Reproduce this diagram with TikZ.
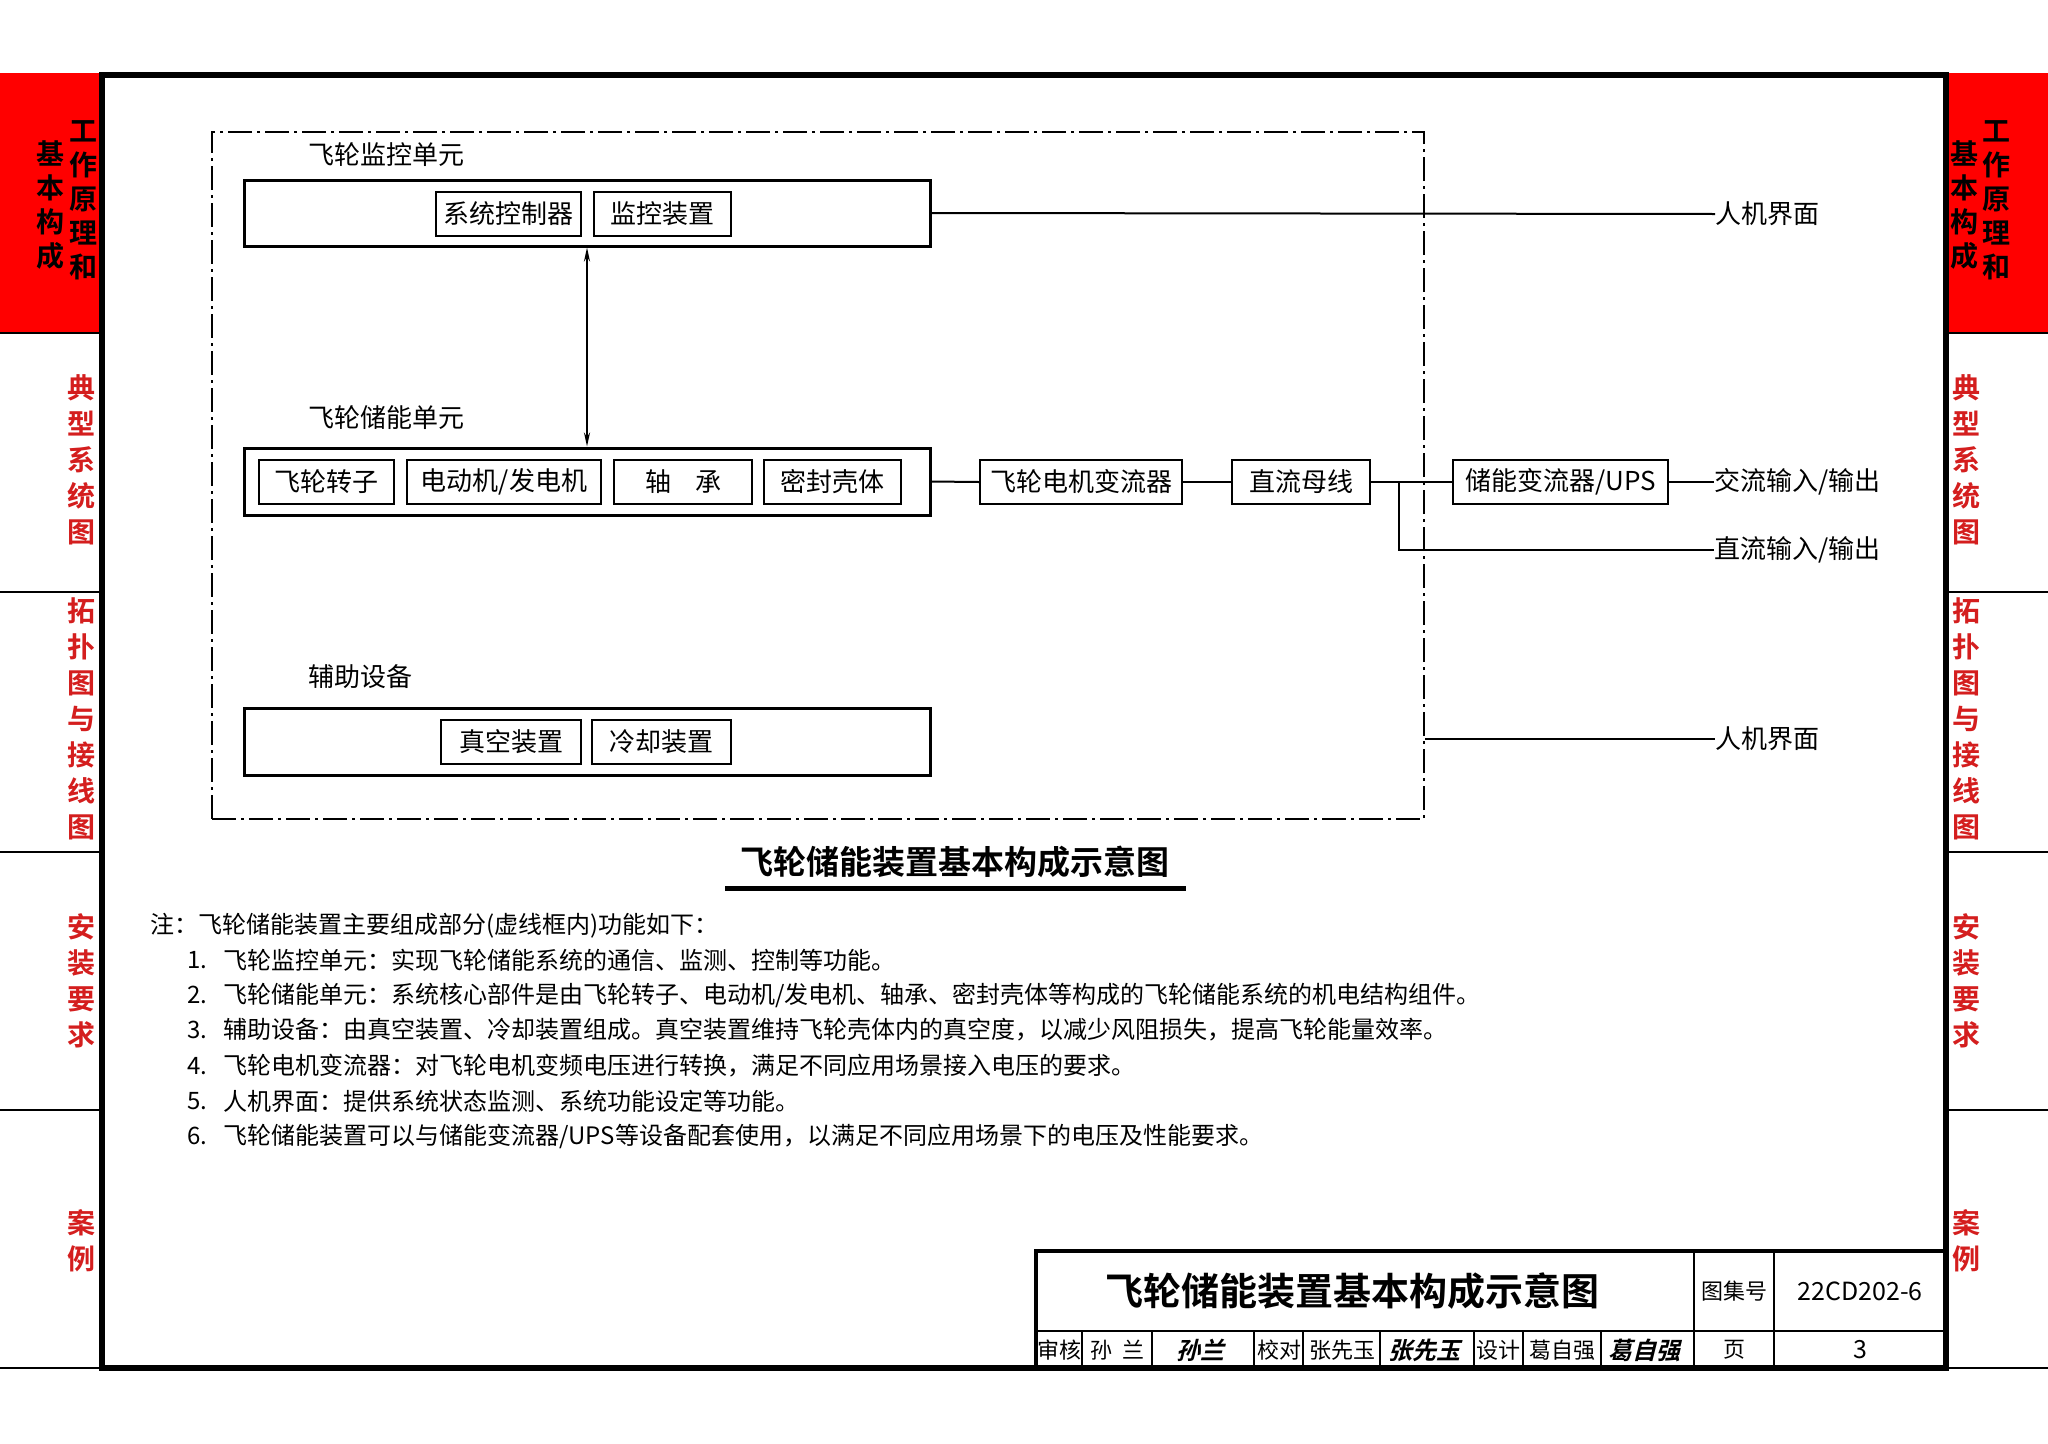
\documentclass[tikz,border=0pt]{standalone}
\usepackage{fontspec}
\setmainfont{Noto Sans CJK SC}[BoldFont={Noto Sans CJK SC Bold}]
\usepackage{tikz}
\usetikzlibrary{calc,arrows.meta}
\definecolor{ink}{HTML}{000000}
\definecolor{tabred}{HTML}{FF0000}
\definecolor{tabtext}{HTML}{D41E1E}
\tikzset{
  frame/.style={draw=ink, line width=6pt},
  thin/.style={draw=ink, line width=1.5pt},
  unit/.style={draw=ink, line width=3pt, minimum width=686pt, inner sep=0pt},
  part/.style={draw=ink, line width=2.5pt, minimum height=44pt, inner sep=0pt, font=\fontsize{26}{30}\selectfont},
  wire/.style={draw=ink, line width=2pt},
  dblarrow/.style={wire, arrows={Stealth[length=14pt,width=6pt]-Stealth[length=14pt,width=6pt]}},
  grpbox/.style={draw=ink, line width=2pt, dash pattern=on 24pt off 5pt on 3pt off 5pt, inner sep=0pt},
  lab/.style={font=\fontsize{26}{30}\selectfont, inner sep=0pt, anchor=west},
  note/.style={font=\fontsize{24}{28}\selectfont, inner sep=0pt, anchor=west},
  tabk/.style={font=\bfseries\fontsize{28}{34}\selectfont, align=center, inner sep=0pt, text=ink},
  tabr/.style={font=\bfseries\fontsize{28}{36}\selectfont, align=center, inner sep=0pt, text=tabtext},
  cell/.style={font=\fontsize{22}{26}\selectfont, inner sep=0pt},
  sign/.style={font=\bfseries\fontsize{24}{26}\selectfont, inner sep=0pt, xslant=0.25}
}

\begin{document}
\begin{tikzpicture}[x=1pt, y=-1pt]
  \fill[white] (0,0) rectangle (2048,1443);
  \useasboundingbox (0,0) rectangle (2048,1443);

  % side tabs
  \fill[tabred] (0,73) rectangle (102,333);
  \fill[tabred] (1946,73) rectangle (2048,333);
  \draw[thin] (0,333) -- (102,333) (0,592) -- (102,592) (0,852) -- (102,852)
              (0,1110) -- (102,1110) (0,1368) -- (102,1368);
  \draw[thin] (1946,333) -- (2048,333) (1946,592) -- (2048,592) (1946,852) -- (2048,852)
              (1946,1110) -- (2048,1110) (1946,1368) -- (2048,1368);
  \node[tabk] (la) at (83,200) {工\\作\\原\\理\\和};
  \node[tabk] (lb) at (50,205) {基\\本\\构\\成};
  \node[tabr] (lc) at (81,460) {典\\型\\系\\统\\图};
  \node[tabr] (ld) at (81,719) {拓\\扑\\图\\与\\接\\线\\图};
  \node[tabr] (le) at (81,981) {安\\装\\要\\求};
  \node[tabr] (lf) at (81,1241) {案\\例};
  \node[tabk] (ra) at (1996,200) {工\\作\\原\\理\\和};
  \node[tabk] (rb) at (1964,205) {基\\本\\构\\成};
  \node[tabr] (rc) at (1966,460) {典\\型\\系\\统\\图};
  \node[tabr] (rd) at (1966,719) {拓\\扑\\图\\与\\接\\线\\图};
  \node[tabr] (re) at (1966,981) {安\\装\\要\\求};
  \node[tabr] (rf) at (1966,1241) {案\\例};

  % dashed group
  \node[grpbox, minimum width=1212pt, minimum height=687pt] (grp) at (818,475.5) {};

  % monitoring unit
  \node[lab] (mculab) at (308,155) {飞轮监控单元};
  \node[unit, minimum height=66pt] (mcu) at (587,213) {};
  \node[part, minimum width=145pt] (ctrl) at (508.5,214) {系统控制器};
  \node[part, minimum width=137pt] (mon) at (662.5,214) {监控装置};

  % storage unit
  \node[lab] (esslab) at (308,418) {飞轮储能单元};
  \node[unit, minimum height=67pt] (ess) at (587,481.5) {};
  \node[part, minimum width=135pt] (rotor) at (326.5,482) {飞轮转子};
  \node[part, minimum width=194pt] (motor) at (504,482) {电动机/发电机};
  \node[part, minimum width=138pt] (bearing) at (683,482) {轴\hspace{24pt}承};
  \node[part, minimum width=137pt] (shell) at (832.5,482) {密封壳体};

  % auxiliary
  \node[lab] (auxlab) at (308,677) {辅助设备};
  \node[unit, minimum height=67pt] (aux) at (587,741.5) {};
  \node[part, minimum width=140pt] (vac) at (511,742) {真空装置};
  \node[part, minimum width=139pt] (cool) at (661.5,742) {冷却装置};

  % converter chain
  \node[part, minimum width=202pt] (conv) at (1081,482) {飞轮电机变流器};
  \node[part, minimum width=138pt] (bus) at (1301,482) {直流母线};
  \node[part, minimum width=215pt] (pcs) at (1560.5,482) {储能变流器/UPS};
  \coordinate (jn) at (1399,482);

  % outside labels
  \node[lab] (hmia) at (1715,214) {人机界面};
  \node[lab] (acio) at (1714,482) {交流输入/输出};
  \node[lab] (dcio) at (1714,550) {直流输入/输出};
  \node[lab] (hmib) at (1715,739) {人机界面};

  \draw[dblarrow] (mcu.south) -- (ess.north);
  \draw[wire] (mcu.east) -- (hmia.west);
  \draw[wire] (ess.east) -- (conv.west);
  \draw[wire] (conv.east) -- (bus.west);
  \draw[wire] (bus.east) -- (pcs.west);
  \draw[wire] (pcs.east) -- (acio.west);
  \draw[wire] (jn) |- (dcio.west);
  \draw[wire] (grp.east |- hmib.west) -- (hmib.west);

  % caption
  \node[font=\bfseries\fontsize{33}{36}\selectfont, inner sep=0pt] (cap) at (955,862) {飞轮储能装置基本构成示意图};
  \draw[ink, line width=5pt] (725,888) -- (1186,888);

  % notes
  \node[note] (n0) at (150,926) {注：飞轮储能装置主要组成部分(虚线框内)功能如下：};
  \node[note] (k1) at (187,960) {1.};
  \node[note] (t1) at (223,960) {飞轮监控单元：实现飞轮储能系统的通信、监测、控制等功能。};
  \node[note] (k2) at (187,995) {2.};
  \node[note] (t2) at (223,995) {飞轮储能单元：系统核心部件是由飞轮转子、电动机/发电机、轴承、密封壳体等构成的飞轮储能系统的机电结构组件。};
  \node[note] (k3) at (187,1030) {3.};
  \node[note] (t3) at (223,1030) {辅助设备：由真空装置、冷却装置组成。真空装置维持飞轮壳体内的真空度，以减少风阻损失，提高飞轮能量效率。};
  \node[note] (k4) at (187,1066) {4.};
  \node[note] (t4) at (223,1066) {飞轮电机变流器：对飞轮电机变频电压进行转换，满足不同应用场景接入电压的要求。};
  \node[note] (k5) at (187,1101) {5.};
  \node[note] (t5) at (223,1101) {人机界面：提供系统状态监测、系统功能设定等功能。};
  \node[note] (k6) at (187,1136) {6.};
  \node[note] (t6) at (223,1136) {飞轮储能装置可以与储能变流器/UPS等设备配套使用，以满足不同应用场景下的电压及性能要求。};

  % title block
  \draw[ink, line width=3.5pt] (1036,1368) -- (1036,1251) -- (1946,1251);
  \draw[ink, line width=2pt] (1036,1331) -- (1946,1331);
  \draw[ink, line width=2pt] (1694,1251) -- (1694,1368) (1774,1251) -- (1774,1368);
  \draw[ink, line width=2pt] (1082,1331) -- (1082,1368) (1152,1331) -- (1152,1368)
       (1254,1331) -- (1254,1368) (1303,1331) -- (1303,1368) (1380,1331) -- (1380,1368)
       (1474,1331) -- (1474,1368) (1523,1331) -- (1523,1368) (1601,1331) -- (1601,1368);
  \node[font=\bfseries\fontsize{38}{40}\selectfont, inner sep=0pt] (tbtitle) at (1352,1291) {飞轮储能装置基本构成示意图};
  \node[cell] (tbset) at (1734,1291) {图集号};
  \node[cell, font=\fontsize{25}{28}\selectfont] (tbno) at (1860,1291) {22CD202-6};
  \node[cell] (c1) at (1059,1350) {审核};
  \node[cell] (c2) at (1117,1350) {孙\hspace{10pt}兰};
  \node[sign] (s1) at (1203,1350) {孙兰};
  \node[cell] (c3) at (1279,1350) {校对};
  \node[cell] (c4) at (1342,1350) {张先玉};
  \node[sign] (s2) at (1427,1350) {张先玉};
  \node[cell] (c5) at (1498,1350) {设计};
  \node[cell] (c6) at (1562,1350) {葛自强};
  \node[sign] (s3) at (1647,1350) {葛自强};
  \node[cell] (tbpg) at (1734,1350) {页};
  \node[cell, font=\fontsize{25}{28}\selectfont] (tbpgno) at (1860,1350) {3};

  % frame
  \draw[frame] (102,75) rectangle (1946,1368);
\end{tikzpicture}
\end{document}
